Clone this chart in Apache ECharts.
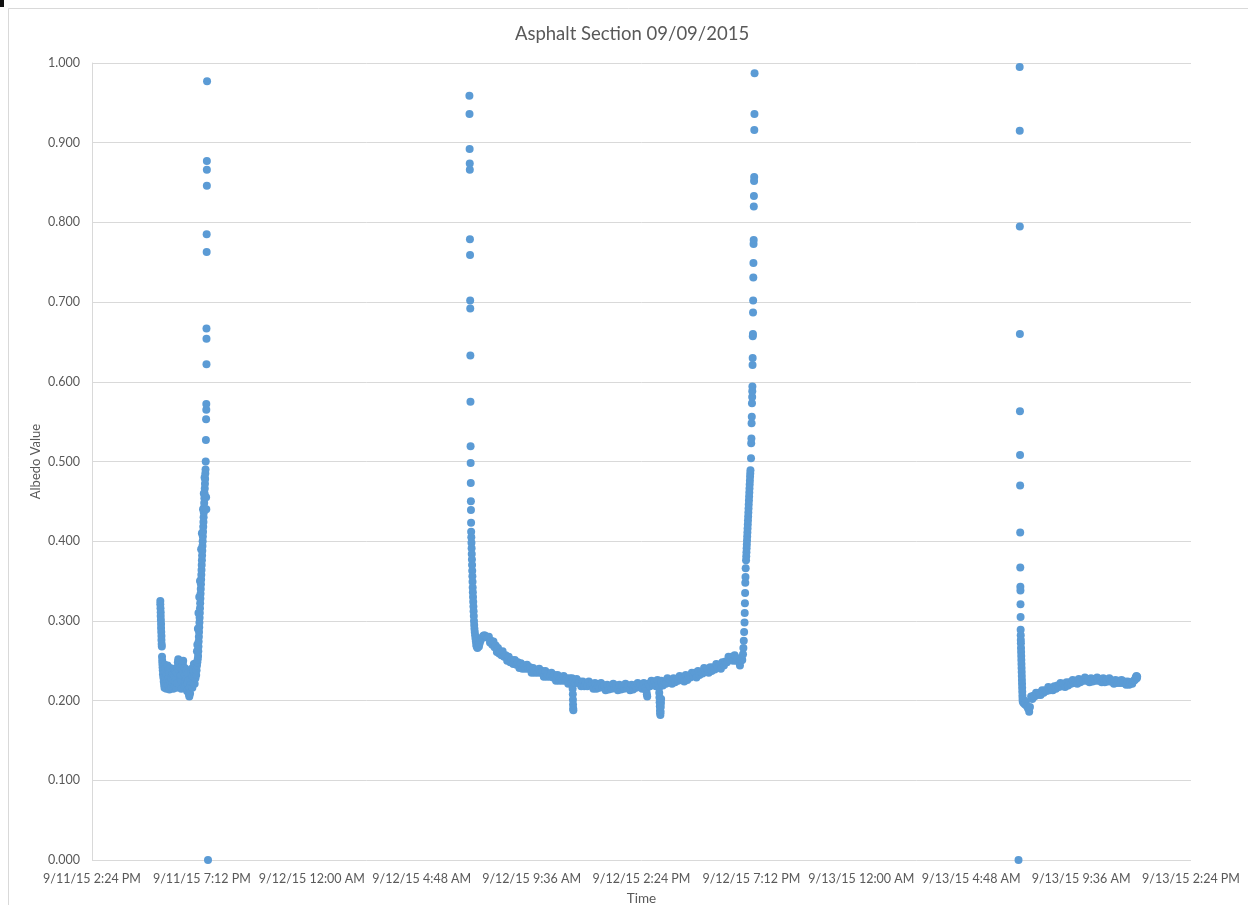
<!DOCTYPE html>
<html>
<head>
<meta charset="utf-8">
<title>Asphalt Section 09/09/2015</title>
<script src="https://cdn.jsdelivr.net/npm/echarts@6/dist/echarts.min.js"></script>
<style>
  html, body { margin: 0; padding: 0; background: #ffffff; overflow: hidden; }
  #chart { width: 1248px; height: 905px; }
</style>
</head>
<body>
<div id="chart"></div>
<script>
// Time is stored as minutes elapsed since 9/11/15 12:00 AM; albedo is unitless.

// Sunset, 9/11/15
const sep11Evening = [
  [1043,0.325],[1043,0.321],[1043.5,0.316],[1044,0.311],[1044,0.306],[1044.5,0.301],[1045,0.296],[1045,0.291],
  [1045.5,0.286],[1046,0.281],[1046,0.276],[1046.5,0.271],[1047,0.268],[1047.5,0.255],[1048,0.250],[1048.5,0.246],
  [1049,0.242],[1049.5,0.238],[1050,0.233],[1051,0.229],[1052,0.224],[1053,0.220],[1054,0.216],
  [1055,0.245],[1056,0.236],[1057,0.228],[1057,0.240],[1058,0.222],[1059,0.215],[1060,0.232],[1061,0.226],
  [1062,0.244],[1063,0.219],[1064,0.238],[1065,0.229],[1066,0.235],[1067,0.214],[1068,0.225],[1069,0.241],
  [1070,0.221],[1071,0.231],[1072,0.217],[1073,0.227],[1074,0.236],[1075,0.222],[1076,0.233],[1077,0.215],
  [1078,0.226],[1079,0.240],[1080,0.230],[1081,0.218],[1082,0.224],[1083,0.237],[1084,0.229],[1085,0.216],
  [1086,0.235],[1087,0.222],[1088,0.242],[1089,0.248],[1090,0.252],[1091,0.244],[1092,0.250],[1093,0.238],
  [1094,0.219],[1095,0.231],[1096,0.241],[1097,0.226],[1098,0.215],[1099,0.232],[1100,0.245],[1101,0.238],
  [1102,0.246],[1103,0.250],[1104,0.236],[1105,0.219],[1106,0.229],[1107,0.241],[1108,0.224],[1109,0.232],
  [1110,0.219],[1111,0.238],[1112,0.227],[1113,0.212],[1114,0.222],[1115,0.234],[1116,0.214],[1117,0.226],
  [1118,0.208],[1119,0.205],[1120,0.216],[1121,0.209],[1122,0.226],[1123,0.219],[1124,0.233],[1125,0.240],
  [1126,0.224],[1127,0.216],[1128,0.231],[1129,0.222],[1130,0.238],[1131,0.246],[1132,0.230],[1133,0.221],
  [1134,0.241],[1135,0.228],[1136,0.247],[1137,0.232],[1138,0.238],[1139,0.244],[1139,0.262],
  [1140,0.248],[1140,0.270],[1141,0.252],[1141.5,0.290],[1142,0.256],[1142.5,0.262],[1143,0.268],[1143,0.310],
  [1143.5,0.274],[1144,0.280],[1144.5,0.286],[1145,0.292],[1145,0.330],[1145.5,0.298],[1146,0.304],[1146.5,0.310],
  [1147,0.316],[1147,0.350],[1147.5,0.322],[1148,0.328],[1148.5,0.334],[1149,0.340],[1149.5,0.346],[1150,0.352],
  [1150,0.390],[1150.5,0.358],[1151,0.364],[1151.5,0.370],[1152,0.376],[1152,0.410],[1152.5,0.382],[1153,0.388],
  [1153.5,0.394],[1154,0.400],[1154.5,0.406],[1155,0.412],[1155,0.440],[1155.5,0.418],[1156,0.424],[1156.5,0.430],
  [1157,0.436],[1157,0.460],[1157.5,0.442],[1158,0.448],[1158.5,0.454],[1159,0.460],[1159,0.480],[1159.5,0.466],
  [1160,0.472],[1160.5,0.478],[1161,0.485],[1161.5,0.490],[1162,0.500],[1163,0.455],[1163.5,0.440],
  [1162.5,0.527],[1163,0.553],[1163.5,0.565],[1163.5,0.572],[1164,0.622],[1164,0.654],[1164,0.667],
  [1164.5,0.763],[1164.5,0.785],[1165,0.846],[1165,0.866],[1165,0.877],[1165.5,0.977],[1168,0.000]
];

// Full day, 9/12/15
const sep12Day = [
  [1853,0.959],[1853.3,0.936],[1853.6,0.892],[1853.9,0.874],[1854.1,0.866],[1854.4,0.779],[1854.7,0.759],
  [1855,0.702],[1855.2,0.692],[1855.5,0.633],[1855.8,0.575],[1856.1,0.519],[1856.3,0.498],[1856.6,0.473],
  [1856.9,0.450],[1857.1,0.439],[1857.4,0.423],
  [1857.6,0.412],[1858,0.405],[1858.4,0.398],[1858.8,0.391],[1859.2,0.384],[1859.6,0.377],[1860,0.370],
  [1860.4,0.363],[1860.8,0.356],[1861.2,0.349],[1861.6,0.342],[1862,0.336],[1862.5,0.330],[1863,0.324],
  [1863.5,0.318],[1864,0.312],[1864.5,0.306],[1865,0.300],[1865.6,0.295],[1866.2,0.290],[1867,0.286],
  [1868,0.282],[1869,0.278],[1870,0.274],[1871,0.270],
  [1872,0.268],[1874,0.266],[1876,0.270],[1878,0.268],[1880,0.272],[1883,0.276],[1886,0.279],[1889,0.281],
  [1892,0.282],[1895,0.281],[1898,0.280],[1901,0.279],
  [1904,0.280],[1907,0.273],[1910,0.275],[1913,0.270],[1916,0.274],[1919,0.267],[1922,0.269],[1925,0.261],
  [1928,0.266],[1931,0.259],[1934,0.261],[1937,0.257],[1940,0.262],[1944,0.255],[1948,0.257],[1952,0.250],
  [1956,0.255],[1960,0.248],[1964,0.251],[1968,0.246],[1972,0.251],[1976,0.245],[1980,0.248],[1984,0.241],
  [1988,0.247],[1992,0.240],[1996,0.244],[2000,0.240],[2004,0.245],[2008,0.240],[2012,0.242],[2016,0.235],
  [2020,0.241],[2024,0.235],[2028,0.238],[2032,0.235],[2036,0.240],[2040,0.235],[2044,0.237],[2048,0.230],
  [2052,0.237],[2056,0.230],[2060,0.233],[2064,0.230],[2068,0.235],[2072,0.229],[2076,0.232],[2080,0.225],
  [2084,0.232],[2088,0.225],[2092,0.229],[2096,0.225],[2100,0.231],[2104,0.225],[2108,0.228],[2112,0.221],
  [2116,0.228],[2120,0.222],
  [2122,0.228],[2123,0.222],[2123.5,0.215],[2124,0.208],[2124.3,0.201],[2124.6,0.195],[2125,0.190],[2125.4,0.188],
  [2126,0.225],[2130,0.222],[2134,0.227],[2138,0.222],[2142,0.224],[2146,0.218],[2150,0.224],[2154,0.218],
  [2158,0.222],[2162,0.218],[2166,0.224],[2170,0.219],[2174,0.221],[2178,0.215],[2182,0.222],[2186,0.215],
  [2190,0.219],[2194,0.216],[2198,0.222],[2202,0.217],[2206,0.219],[2210,0.213],[2214,0.220],[2218,0.214],
  [2222,0.218],[2226,0.215],[2230,0.221],[2234,0.216],[2238,0.219],[2242,0.213],[2246,0.220],[2250,0.214],
  [2254,0.218],[2258,0.215],[2262,0.221],[2266,0.216],[2270,0.219],[2274,0.213],[2278,0.220],[2282,0.214],
  [2286,0.219],[2290,0.216],[2294,0.222],[2298,0.217],[2302,0.220],[2306,0.215],[2310,0.222],[2314,0.216],
  [2317,0.212],[2318,0.208],[2319,0.205],
  [2322,0.221],[2326,0.218],[2330,0.225],[2334,0.220],[2338,0.224],[2342,0.218],[2346,0.226],[2349,0.220],
  [2350,0.216],[2350.5,0.210],[2351,0.204],[2351.5,0.198],[2352,0.193],[2352.5,0.188],[2353,0.184],[2353.5,0.182],
  [2354,0.186],[2354.5,0.192],[2355,0.197],[2355.5,0.202],
  [2356,0.225],[2360,0.219],[2364,0.224],[2368,0.221],[2372,0.228],[2376,0.223],[2380,0.226],[2384,0.221],
  [2388,0.228],[2392,0.223],[2396,0.227],[2400,0.225],[2404,0.231],[2408,0.226],[2412,0.230],[2416,0.224],
  [2420,0.232],[2424,0.226],[2428,0.231],[2432,0.229],[2436,0.235],[2440,0.231],[2444,0.235],[2448,0.229],
  [2452,0.237],[2456,0.232],[2460,0.236],[2464,0.234],[2468,0.241],[2472,0.236],[2476,0.240],[2480,0.235],
  [2484,0.242],[2488,0.237],[2492,0.242],[2496,0.239],[2500,0.246],[2504,0.242],[2508,0.245],[2512,0.240],
  [2516,0.248],[2520,0.244],[2524,0.249],[2528,0.248],[2532,0.255],[2536,0.251],[2540,0.255],[2544,0.250],
  [2548,0.257],[2552,0.250],[2556,0.253],[2560,0.248],[2562,0.244],[2564,0.250],[2566,0.253],[2568,0.251],
  [2570,0.258],[2571,0.266],[2572,0.275],[2573,0.286],[2574,0.298],[2574.5,0.310],[2575,0.322],[2575.5,0.335],
  [2576,0.348],[2576.5,0.355],[2577,0.366],
  [2578,0.376],[2578.5,0.381],[2579,0.386],[2579.5,0.391],[2580,0.396],[2580.5,0.401],[2581,0.406],[2581.5,0.411],
  [2582,0.416],[2582.5,0.421],[2583,0.426],[2583.5,0.431],[2584,0.436],[2584.5,0.441],[2585,0.446],[2585.5,0.451],
  [2586,0.456],[2586.5,0.461],[2587,0.466],[2587.5,0.471],[2588,0.476],[2588.5,0.481],[2589,0.485],[2589.5,0.489],
  [2591,0.504],[2591.5,0.523],[2592,0.529],[2592.5,0.548],[2593,0.556],[2593.5,0.573],[2594,0.581],[2594.3,0.588],
  [2594.6,0.594],[2595,0.621],[2595.3,0.630],[2595.6,0.657],[2596,0.660],[2596.3,0.687],[2596.6,0.702],[2597,0.731],
  [2597.3,0.749],[2597.6,0.773],[2598,0.778],[2598.3,0.820],[2598.6,0.833],[2599,0.852],[2599.3,0.857],[2599.6,0.916],
  [2600,0.936],[2600.3,0.987]
];

// Sunrise to midday, 9/13/15
const sep13Morning = [
  [3292,0.000],
  [3295,0.995],[3295.2,0.915],[3295.4,0.795],[3295.6,0.660],[3295.8,0.563],[3296,0.508],[3296.2,0.470],
  [3296.4,0.411],[3296.6,0.367],[3296.8,0.343],[3297,0.338],[3297.2,0.321],[3297.4,0.305],[3297.6,0.289],
  [3297.8,0.282],[3298,0.276],[3298.2,0.272],
  [3298.5,0.266],[3298.8,0.261],[3299.1,0.256],[3299.4,0.251],[3299.7,0.246],[3300,0.241],[3300.3,0.236],
  [3300.6,0.231],[3300.9,0.226],[3301.2,0.221],[3301.5,0.216],[3301.8,0.211],[3302.2,0.206],[3302.6,0.202],
  [3303,0.199],[3305,0.197],[3307,0.200],[3309,0.195],[3311,0.198],[3314,0.193],[3317,0.190],[3320,0.186],
  [3322,0.192],[3325,0.205],[3328,0.202],[3331,0.206],[3334,0.205],[3338,0.210],[3342,0.207],[3346,0.210],
  [3350,0.207],[3354,0.213],[3358,0.210],[3362,0.213],[3366,0.212],[3370,0.217],[3374,0.213],[3378,0.216],
  [3382,0.213],[3386,0.218],[3390,0.215],[3394,0.219],[3398,0.217],[3402,0.222],[3406,0.218],[3410,0.221],
  [3414,0.217],[3418,0.223],[3422,0.219],[3426,0.223],[3430,0.221],[3434,0.226],[3438,0.222],[3442,0.225],
  [3446,0.221],[3450,0.227],[3454,0.223],[3458,0.226],[3462,0.225],[3466,0.229],[3470,0.225],[3474,0.227],
  [3478,0.223],[3482,0.228],[3486,0.224],[3490,0.227],[3494,0.225],[3498,0.229],[3502,0.225],[3506,0.227],
  [3510,0.223],[3514,0.228],[3518,0.223],[3522,0.226],[3526,0.224],[3530,0.228],[3534,0.224],[3538,0.225],
  [3542,0.221],[3546,0.226],[3550,0.222],[3554,0.225],[3558,0.222],[3562,0.226],[3566,0.222],[3570,0.224],
  [3574,0.220],[3578,0.224],[3582,0.220],[3586,0.223],[3590,0.221],[3594,0.225],[3597,0.226],[3599,0.229],
  [3601,0.231],[3602,0.228],[3603,0.230]
];

// Axis range: 9/11/15 2:24 PM to 9/13/15 2:24 PM, ticks every 4 h 48 min
const timeMin = 864;
const timeMax = 3744;
const timeStep = 288;
const startDay = 11;

function timeLabel(minutes) {
  const day = Math.floor(minutes / 1440);
  const mod = Math.round(minutes - day * 1440);
  const h = Math.floor(mod / 60);
  const m = mod % 60;
  const ampm = h < 12 ? 'AM' : 'PM';
  const h12 = h % 12 === 0 ? 12 : h % 12;
  return '9/' + (startDay + day) + '/15 ' + h12 + ':' + String(m).padStart(2, '0') + ' ' + ampm;
}

const FONT = 'Lato, "Open Sans", sans-serif';
const TEXT = '#595959';
const GRID = '#D9D9D9';

const chart = echarts.init(document.getElementById('chart'), null, { renderer: 'canvas' });
chart.setOption({
  animation: false,
  backgroundColor: '#ffffff',
  title: {
    text: 'Asphalt Section 09/09/2015',
    left: 627,
    top: 20,
    textAlign: 'center',
    textStyle: { fontFamily: FONT, fontSize: 18.5, fontWeight: 'normal', color: TEXT }
  },
  graphic: [
    { type: 'rect', shape: { x: 8.5, y: 8.5, width: 1400, height: 1000 },
      style: { fill: 'none', stroke: GRID, lineWidth: 1 }, silent: true },
    { type: 'rect', shape: { x: 0, y: 0, width: 4, height: 7 },
      style: { fill: '#111111' }, silent: true }
  ],
  grid: { left: 92, top: 63, right: 57, bottom: 45, containLabel: false, outerBoundsMode: 'none' },
  xAxis: {
    type: 'value',
    min: timeMin,
    max: timeMax,
    interval: timeStep,
    name: 'Time',
    nameLocation: 'middle',
    nameGap: 32,
    nameMoveOverlap: false,
    nameTextStyle: { fontFamily: FONT, fontSize: 13.5, color: TEXT },
    axisLine: { show: false },
    axisTick: { show: false },
    splitLine: { show: false },
    axisLabel: {
      fontFamily: FONT, fontSize: 12.5, color: TEXT, margin: 12,
      showMinLabel: true, showMaxLabel: true,
      formatter: timeLabel
    }
  },
  yAxis: {
    type: 'value',
    min: 0,
    max: 1,
    interval: 0.1,
    name: 'Albedo Value',
    nameLocation: 'middle',
    nameGap: 50,
    nameRotate: 90,
    nameMoveOverlap: false,
    nameTextStyle: { fontFamily: FONT, fontSize: 13, color: TEXT },
    axisLine: { show: true, lineStyle: { color: GRID, width: 1 } },
    axisTick: { show: false },
    splitLine: { show: true, lineStyle: { color: GRID, width: 1 } },
    axisLabel: {
      fontFamily: FONT, fontSize: 12.5, color: TEXT, margin: 12,
      formatter: v => v.toFixed(3)
    }
  },
  series: [{
    type: 'scatter',
    name: 'Albedo',
    data: sep11Evening.concat(sep12Day, sep13Morning),
    symbol: 'circle',
    symbolSize: 8,
    itemStyle: { color: '#5B9BD5', opacity: 1 },
    emphasis: { disabled: true }
  }]
});
</script>
</body>
</html>
